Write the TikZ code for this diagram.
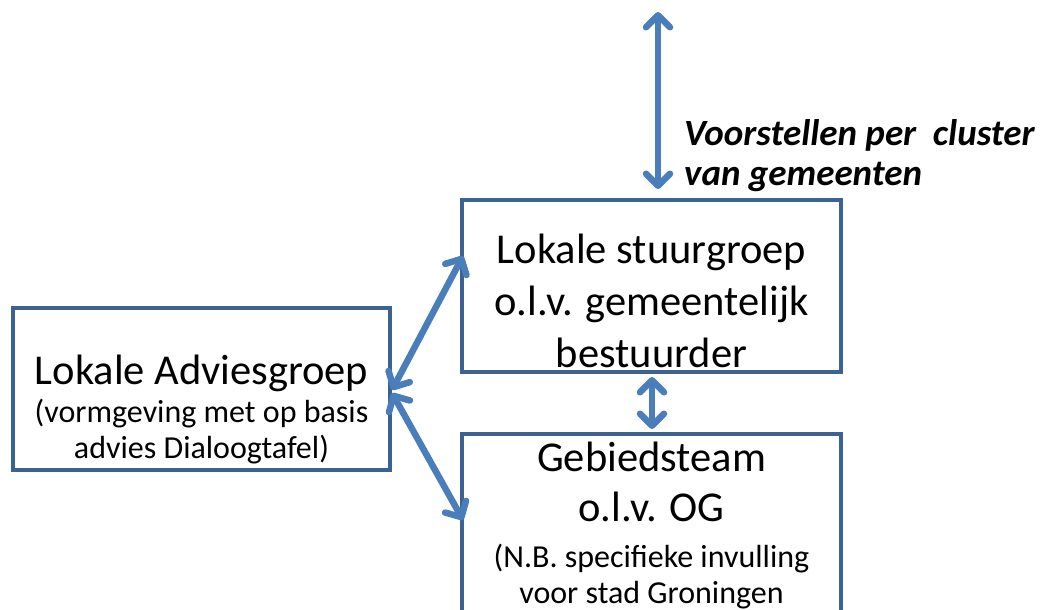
\documentclass[tikz,border=0pt]{standalone}
\usepackage{fontspec}
\setmainfont{Carlito}
\usetikzlibrary{arrows.meta,calc}
\definecolor{boxc}{HTML}{3C6193}
\definecolor{arrc}{HTML}{4A7EBB}
\tikzset{
  box/.style={draw=boxc, line width=4pt, fill=white, inner sep=0pt},
  conn/.style={draw=arrc, line width=6.5pt, line cap=round,
    {Straight Barb[length=12pt,width=24pt,line cap=round,line join=round]}-{Straight Barb[length=12pt,width=24pt,line cap=round,line join=round]}},
  big/.style={font=\fontsize{42.5}{52}\selectfont, inner sep=0pt, anchor=base},
  small/.style={font=\fontsize{32}{36}\selectfont, inner sep=0pt, anchor=base},
  lbl/.style={font=\fontsize{37}{44}\selectfont\bfseries\itshape, inner sep=0pt, anchor=base west},
}
\begin{document}
\begin{tikzpicture}[x=1pt,y=-1pt]
\useasboundingbox (0,0) rectangle (1042,610);
\node[box, minimum width=379pt, minimum height=172pt] (ls) at (651.5,286) {};
\node[box, minimum width=377pt, minimum height=162pt] (lad) at (201.5,389) {};
\node[box, minimum width=379pt, minimum height=220pt, anchor=north] (gb) at (651.5,432) {};

\node[big] (ls1) at (651.5,263) {Lokale stuurgroep};
\node[big] (ls2) at (651.5,315) {o.l.v. gemeentelijk};
\node[big] (ls3) at (651.5,367) {bestuurder};

\node[big] (lad1) at (201.5,384) {Lokale Adviesgroep};
\node[small] (lad2) at (201.5,422) {(vormgeving met op basis};
\node[small] (lad3) at (201.5,458) {advies Dialoogtafel)};

\node[big] (gb1) at (651.5,471) {Gebiedsteam};
\node[big] (gb2) at (651.5,521) {o.l.v. OG};
\node[small] (gb3) at (651.5,567) {(N.B. specifieke invulling};
\node[small] (gb4) at (651.5,603) {voor stad Groningen};

\node[lbl] (lbl1) at (684,145) {Voorstellen per\ \ cluster};
\node[lbl] (lbl2) at (684,185) {van gemeenten};

\coordinate (top) at (658,12);
\coordinate (topb) at (658,189);
\draw[conn] (top) -- (topb);
\draw[conn] ($(ls.south)+(0.5,3)$) -- ($(gb.north)+(0.5,-3)$);
\draw[conn] ($(lad.east)+(0,1)$) -- ($(ls.north west)+(3,58)$);
\draw[conn] ($(lad.east)+(0,4)$) -- ($(gb.north west)+(3,88)$);
\end{tikzpicture}
\end{document}
